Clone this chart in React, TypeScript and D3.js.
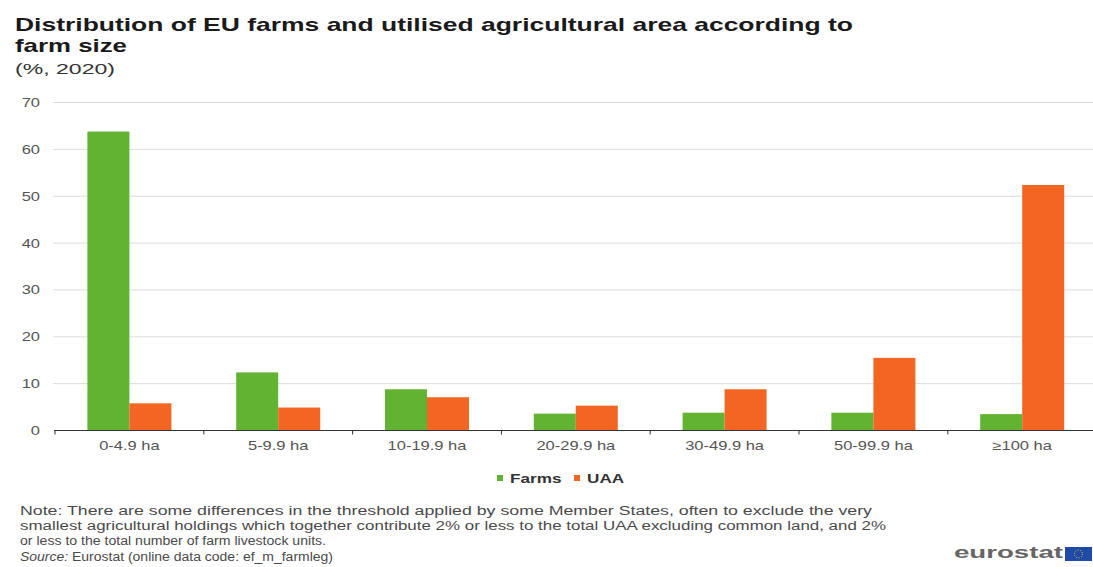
import React from "react";
import * as d3 from "d3";

const categories = ["0-4.9 ha", "5-9.9 ha", "10-19.9 ha", "20-29.9 ha", "30-49.9 ha", "50-99.9 ha", "≥100 ha"];
const seriesNames = ["Farms", "UAA"];
const farms = [63.8, 12.4, 8.8, 3.6, 3.8, 3.8, 3.5];
const uaa = [5.8, 4.9, 7.1, 5.3, 8.8, 15.5, 52.4];
const yTicks = [0, 10, 20, 30, 40, 50, 60, 70];
const colors = ["#62b332", "#f26522"];

const W = 1093;
const H = 567;
const FONT = "'Liberation Sans', Arial, sans-serif";
const SX = 1.32;

export default function App() {
  const x0 = d3.scaleBand<string>().domain(categories).range([55, 1096.6]).paddingInner(0).paddingOuter(0);
  const groupW = 84;
  const x1 = d3.scaleBand<string>().domain(seriesNames).range([0, groupW]).padding(0);
  const y = d3.scaleLinear().domain([0, 70]).range([430.5, 102.5]);
  const values = [farms, uaa];
  const step = x0.step();

  return (
    <svg width={W} height={H} style={{ position: "absolute", left: 0, top: 0, background: "#fff" }} fontFamily={FONT}>
      <rect x={0} y={0} width={W} height={H} fill="#fff" />
      {/* Title */}
      <text x={15} y={31} fontSize={18.5} fontWeight="bold" fill="#1a1a1a" textLength={838} lengthAdjust="spacingAndGlyphs">
        Distribution of EU farms and utilised agricultural area according to
      </text>
      <text x={15} y={52} fontSize={18.5} fontWeight="bold" fill="#1a1a1a" textLength={112} lengthAdjust="spacingAndGlyphs">
        farm size
      </text>
      <text x={15} y={74} fontSize={15} fill="#333" textLength={100} lengthAdjust="spacingAndGlyphs">
        (%, 2020)
      </text>

      {/* Gridlines and y labels */}
      {yTicks.map((t) => (
        <g key={t}>
          {t !== 0 && <line x1={53} x2={1093} y1={y(t)} y2={y(t)} stroke="#dcdcdc" strokeWidth={1} />}
          <text transform={`translate(40,${y(t) + 4.5}) scale(${SX},1)`} fontSize={12.5} fill="#555" textAnchor="end">
            {t}
          </text>
        </g>
      ))}

      {/* Bars */}
      {categories.map((c, i) => (
        <g key={c} transform={`translate(${(x0(c) as number) + (step - groupW) / 2},0)`}>
          {seriesNames.map((s, j) => (
            <rect
              key={s}
              x={x1(s) as number}
              y={y(values[j][i])}
              width={x1.bandwidth()}
              height={y(0) - y(values[j][i])}
              fill={colors[j]}
            />
          ))}
        </g>
      ))}

      {/* X axis */}
      <line x1={54} x2={1093} y1={430.5} y2={430.5} stroke="#333" strokeWidth={1} />
      {categories.map((c) => (
        <line key={c + "t"} x1={(x0(c) as number)} x2={(x0(c) as number)} y1={430.5} y2={434.5} stroke="#333" />
      ))}
      {categories.map((c) => (
        <text
          key={c + "l"}
          transform={`translate(${(x0(c) as number) + step / 2},449.5) scale(${SX},1)`}
          fontSize={12.5}
          fill="#555"
          textAnchor="middle"
        >
          {c}
        </text>
      ))}

      {/* Legend */}
      {seriesNames.map((s, j) => {
        const lx = [497, 574][j];
        return (
          <g key={s}>
            <rect x={lx} y={475} width={6} height={6} fill={colors[j]} />
            <text transform={`translate(${lx + 13},483) scale(${SX},1)`} fontSize={13} fontWeight="bold" fill="#333">
              {s}
            </text>
          </g>
        );
      })}

      {/* Footnotes */}
      <g fontSize={12} fill="#4a4a4a">
        <text x={20} y={515} textLength={852} lengthAdjust="spacingAndGlyphs">
          Note: There are some differences in the threshold applied by some Member States, often to exclude the very
        </text>
        <text x={20} y={530} textLength={866} lengthAdjust="spacingAndGlyphs">
          smallest agricultural holdings which together contribute 2% or less to the total UAA excluding common land, and 2%
        </text>
        <text x={20} y={545} textLength={306} lengthAdjust="spacingAndGlyphs">
          or less to the total number of farm livestock units.
        </text>
        <text x={20} y={561} textLength={313} lengthAdjust="spacingAndGlyphs">
          <tspan fontStyle="italic">Source:</tspan> Eurostat (online data code: ef_m_farmleg)
        </text>
      </g>

      {/* Eurostat logo */}
      <text x={954} y={558} fontSize={16} fontWeight="bold" fill="#666" textLength={109} lengthAdjust="spacingAndGlyphs">
        eurostat
      </text>
      <rect x={1065} y={547} width={27} height={14} fill="#1f4aa8" />
      <circle cx={1078.5} cy={554} r={4} fill="none" stroke="#f5d20a" strokeWidth={1} strokeDasharray="1 1.5" />
    </svg>
  );
}
